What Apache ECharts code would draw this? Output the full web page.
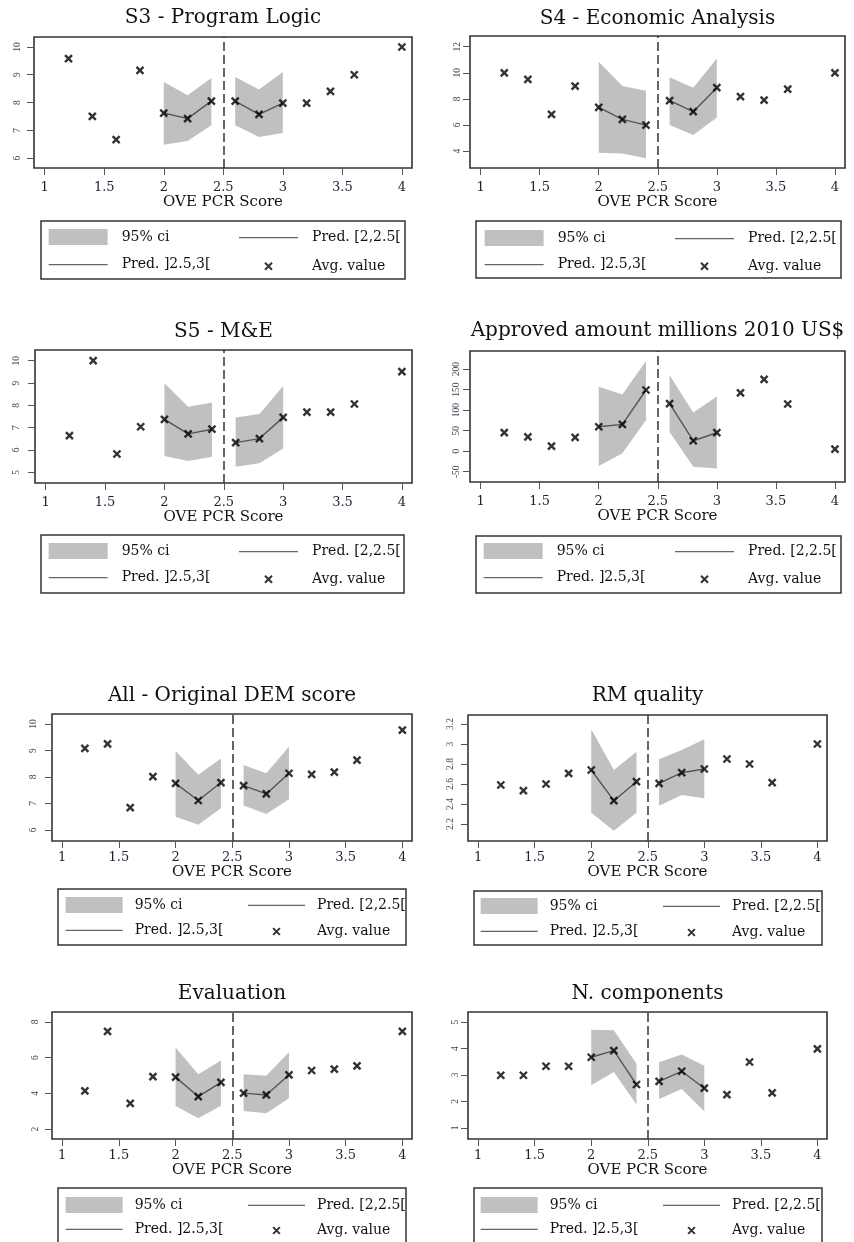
<!DOCTYPE html>
<html>
<head>
<meta charset="utf-8">
<title>OVE PCR Score - regression discontinuity panels</title>
<script src="https://cdn.jsdelivr.net/npm/echarts@6.0.0/dist/echarts.min.js"></script>
<style>
  html, body { margin: 0; padding: 0; background: #fff; }
  #chart { width: 854px; height: 1242px; }
</style>
</head>
<body>
<div id="chart"></div>
<script>
// score bins on the x axis
const xScores = [1.2, 1.4, 1.6, 1.8, 2.0, 2.2, 2.4, 2.6, 2.8, 3.0, 3.2, 3.4, 3.6, 4.0];
const ciLeftX = [2.0, 2.2, 2.4];
const ciRightX = [2.6, 2.8, 3.0];
const xTicks = [1, 1.5, 2, 2.5, 3, 3.5, 4];
const cutoff = 2.5;

// S3 - Program Logic
const s3Avg = [9.58, 7.50, 6.66, 9.16, 7.62, 7.42, 8.05, 8.05, 7.57, 7.98, 7.98, 8.40, 9.00, 10.0];
const s3LoL = [6.48, 6.61, 7.18];
const s3HiL = [8.74, 8.26, 8.88];
const s3LoR = [7.18, 6.76, 6.90];
const s3HiR = [8.92, 8.47, 9.10];
const s3Ticks = [6, 7, 8, 9, 10];

// S4 - Economic Analysis
const s4Avg = [10.0, 9.50, 6.81, 8.98, 7.35, 6.43, 5.99, 7.86, 7.02, 8.86, 8.17, 7.91, 8.75, 10.0];
const s4LoL = [3.87, 3.82, 3.44];
const s4HiL = [10.85, 8.98, 8.63];
const s4LoR = [5.99, 5.23, 6.58];
const s4HiR = [9.65, 8.86, 11.1];
const s4Ticks = [4, 6, 8, 10, 12];

// S5 - M&E
const s5Avg = [6.64, 10.0, 5.82, 7.04, 7.37, 6.72, 6.93, 6.33, 6.51, 7.46, 7.70, 7.70, 8.06, 9.51];
const s5LoL = [5.73, 5.51, 5.70];
const s5HiL = [8.99, 7.94, 8.13];
const s5LoR = [5.25, 5.40, 6.07];
const s5HiR = [7.46, 7.61, 8.87];
const s5Ticks = [5, 6, 7, 8, 9, 10];

// Approved amount millions 2010 US$
const amtAvg = [45, 35, 12.5, 33.6, 59.6, 65.3, 149, 116, 25.5, 45, 142, 175, 115, 5.2];
const amtLoL = [-36, -5, 76];
const amtHiL = [157, 138, 219.5];
const amtLoR = [47, -38, -42];
const amtHiR = [185, 94, 133];
const amtTicks = [-50, 0, 50, 100, 150, 200];

// All - Original DEM score
const demAvg = [9.08, 9.25, 6.84, 8.01, 7.76, 7.11, 7.79, 7.67, 7.36, 8.14, 8.10, 8.18, 8.64, 9.77];
const demLoL = [6.50, 6.19, 6.82];
const demHiL = [8.98, 8.08, 8.70];
const demLoR = [6.92, 6.60, 7.16];
const demHiR = [8.45, 8.14, 9.14];
const demTicks = [6, 7, 8, 9, 10];

// RM quality
const rmAvg = [2.59, 2.533, 2.60, 2.707, 2.74, 2.433, 2.623, 2.607, 2.713, 2.75, 2.85, 2.80, 2.613, 3.0];
const rmLoL = [2.313, 2.133, 2.313];
const rmHiL = [3.147, 2.74, 2.923];
const rmLoR = [2.383, 2.49, 2.457];
const rmHiR = [2.847, 2.94, 3.047];
const rmTicks = [2.2, 2.4, 2.6, 2.8, 3, 3.2];

// Evaluation
const evAvg = [4.14, 7.47, 3.44, 4.94, 4.91, 3.82, 4.61, 4.01, 3.91, 5.04, 5.28, 5.36, 5.54, 7.47];
const evLoL = [3.29, 2.60, 3.31];
const evHiL = [6.57, 5.07, 5.84];
const evLoR = [3.01, 2.88, 3.73];
const evHiR = [5.07, 4.98, 6.31];
const evTicks = [2, 4, 6, 8];

// N. components
const ncAvg = [2.99, 2.99, 3.33, 3.33, 3.67, 3.92, 2.64, 2.76, 3.14, 2.50, 2.26, 3.49, 2.32, 3.99];
const ncLoL = [2.61, 3.11, 1.88];
const ncHiL = [4.71, 4.69, 3.42];
const ncLoR = [2.09, 2.47, 1.63];
const ncHiR = [3.48, 3.77, 3.35];
const ncTicks = [1, 2, 3, 4, 5];

const SERIF = "'DejaVu Serif', serif";
const BAND = '#c0c0c0';
const PRED = '#555';
const X_SYMBOL = 'path://M0,0L10,10M10,0L0,10';
// legend icons: the leading moves give the icon the full legend key box
const X_LEGEND = 'path://M0,0M59,16M26,4.5L33,11.5M33,4.5L26,11.5';
const LINE_LEGEND = 'path://M0,0M59,16M0,8L59,8';

const panels = [
  {title: 'S3 - Program Logic', avg: s3Avg, lo: [s3LoL, s3LoR], hi: [s3HiL, s3HiR], ticks: s3Ticks,
    yRange: [5.64, 10.36], grid: [34, 37, 378, 131], titleTop: 8, yGap: 12,
    legend: {box: [41, 221, 364, 58], c1: 48, c2: 238, r1: 237, r2: 264}},
  {title: 'S4 - Economic Analysis', avg: s4Avg, lo: [s4LoL, s4LoR], hi: [s4HiL, s4HiR], ticks: s4Ticks,
    yRange: [2.70, 12.82], grid: [470, 36, 375, 132], titleTop: 9, yGap: 8,
    legend: {box: [476, 221, 365, 57], c1: 484, c2: 674, r1: 238, r2: 264}},
  {title: 'S5 - M&E', avg: s5Avg, lo: [s5LoL, s5LoR], hi: [s5HiL, s5HiR], ticks: s5Ticks,
    yRange: [4.52, 10.48], grid: [35, 350, 377, 133], titleTop: 322, yGap: 14,
    legend: {box: [41, 535, 363, 58], c1: 48, c2: 238, r1: 551, r2: 577}},
  {title: 'Approved amount millions 2010 US$', avg: amtAvg, lo: [amtLoL, amtLoR], hi: [amtHiL, amtHiR], ticks: amtTicks,
    yRange: [-75, 244], grid: [470, 351, 375, 131], titleTop: 321, yGap: 9,
    legend: {box: [476, 536, 365, 57], c1: 483, c2: 674, r1: 551, r2: 577}},
  {title: 'All - Original DEM score', avg: demAvg, lo: [demLoL, demLoR], hi: [demHiL, demHiR], ticks: demTicks,
    yRange: [5.58, 10.38], grid: [52, 714, 360, 127], titleTop: 686, yGap: 14,
    legend: {box: [58, 889, 348, 56], c1: 65, c2: 247, r1: 905, r2: 930}},
  {title: 'RM quality', avg: rmAvg, lo: [rmLoL, rmLoR], hi: [rmHiL, rmHiR], ticks: rmTicks,
    yRange: [2.03, 3.29], grid: [468, 715, 359, 126], titleTop: 686, yGap: 13,
    legend: {box: [474, 891, 348, 54], c1: 480, c2: 662, r1: 906, r2: 931}},
  {title: 'Evaluation', avg: evAvg, lo: [evLoL, evLoR], hi: [evHiL, evHiR], ticks: evTicks,
    yRange: [1.44, 8.56], grid: [52, 1012, 360, 127], titleTop: 984, yGap: 12,
    legend: {box: [58, 1188, 348, 58], c1: 65, c2: 247, r1: 1205, r2: 1229}},
  {title: 'N. components', avg: ncAvg, lo: [ncLoL, ncLoR], hi: [ncHiL, ncHiR], ticks: ncTicks,
    yRange: [0.58, 5.38], grid: [468, 1012, 359, 127], titleTop: 984, yGap: 8,
    legend: {box: [474, 1188, 348, 58], c1: 480, c2: 662, r1: 1205, r2: 1229}}
];

const fmt = v => String(+(+v).toFixed(3));

// one grey polygon for the whole band, drawn on the first data item
function renderBand(params, api) {
  if (params.dataIndexInside !== 0) return null;
  const upper = [];
  const lower = [];
  for (let k = 0; k < params.dataInsideLength; k++) {
    const x = api.value(0, k);
    upper.push(api.coord([x, api.value(2, k)]));
    lower.unshift(api.coord([x, api.value(1, k)]));
  }
  return {
    type: 'polygon',
    shape: {points: upper.concat(lower)},
    style: {fill: api.visual('color')}
  };
}

const option = {
  animation: false,
  backgroundColor: '#fff',
  title: [], grid: [], xAxis: [], yAxis: [], legend: [], series: [], graphic: []
};

panels.forEach((p, i) => {
  const [gl, gt, gw, gh] = p.grid;
  const topRow = i < 4;

  option.title.push({
    text: p.title, left: gl + gw / 2, top: p.titleTop, textAlign: 'center', padding: 0,
    textStyle: {fontFamily: SERIF, fontSize: 20, fontWeight: 'normal', color: '#111'}
  });

  option.grid.push({
    left: gl, top: gt, width: gw, height: gh,
    show: true, borderColor: '#333', borderWidth: 1.6, backgroundColor: 'transparent'
  });

  option.xAxis.push({
    gridIndex: i, type: 'value', min: 0.91, max: 4.085,
    name: 'OVE PCR Score', nameLocation: 'middle', nameGap: topRow ? 24 : 21,
    nameTextStyle: {fontFamily: SERIF, fontSize: 15, color: '#111'},
    axisLine: {show: false, onZero: false},
    splitLine: {show: false},
    axisTick: {show: true, length: 7, customValues: xTicks, lineStyle: {color: '#555', width: 1}},
    axisLabel: {customValues: xTicks, margin: topRow ? 13 : 10, fontFamily: SERIF, fontSize: 13,
      color: '#1f1f33', formatter: fmt}
  });

  option.yAxis.push({
    gridIndex: i, type: 'value', min: p.yRange[0], max: p.yRange[1],
    axisLine: {show: false, onZero: false},
    splitLine: {show: false},
    axisTick: {show: true, length: 7, customValues: p.ticks, lineStyle: {color: '#555', width: 1}},
    axisLabel: {customValues: p.ticks, rotate: 90, margin: p.yGap, fontFamily: "'Liberation Serif', serif",
      fontSize: 9.5, color: '#4a4458', formatter: fmt}
  });

  // confidence bands
  [ciLeftX, ciRightX].forEach((xs, side) => {
    option.series.push({
      name: '95% ci', type: 'custom', xAxisIndex: i, yAxisIndex: i, silent: true, z: 1,
      itemStyle: {color: BAND},
      encode: {x: 0, y: [1, 2]},
      data: xs.map((x, k) => [x, p.lo[side][k], p.hi[side][k]]),
      renderItem: renderBand
    });
  });

  // predicted lines on each side of the cutoff
  option.series.push({
    name: 'Pred. [2,2.5[', type: 'line', xAxisIndex: i, yAxisIndex: i, z: 2, silent: true,
    symbol: 'none', lineStyle: {color: PRED, width: 1.4}, itemStyle: {color: PRED},
    data: ciLeftX.map(x => [x, p.avg[xScores.indexOf(x)]])
  });
  option.series.push({
    name: 'Pred. ]2.5,3[', type: 'line', xAxisIndex: i, yAxisIndex: i, z: 2, silent: true,
    symbol: 'none', lineStyle: {color: PRED, width: 1.4}, itemStyle: {color: PRED},
    data: ciRightX.map(x => [x, p.avg[xScores.indexOf(x)]])
  });

  // bin averages + cutoff line
  option.series.push({
    name: 'Avg. value', type: 'scatter', xAxisIndex: i, yAxisIndex: i, z: 3, silent: true,
    symbol: X_SYMBOL, symbolSize: 7,
    itemStyle: {color: '#000', borderColor: '#000', borderWidth: 2.4},
    data: xScores.map((x, k) => [x, p.avg[k]]),
    markLine: {
      silent: true, symbol: ['none', 'none'], label: {show: false},
      lineStyle: {color: '#333', width: 1.5, type: [9, 4]},
      data: [{xAxis: cutoff}]
    }
  });

  // legend: two columns inside a framed box
  const L = p.legend;
  const legendBase = {
    orient: 'vertical', padding: 0, top: L.r1 - 8,
    itemWidth: topRow ? 59 : 57, itemHeight: 16, itemGap: (L.r2 - L.r1) - 16,
    selectedMode: false,
    formatter: '{t|{name}}',
    textStyle: {rich: {t: {fontFamily: SERIF, fontSize: 14, color: '#111', lineHeight: 16,
      padding: [0, 0, 0, topRow ? 9 : 7]}}}
  };
  const lineIcon = {icon: LINE_LEGEND, itemStyle: {color: 'transparent', borderColor: '#666', borderWidth: 1.3}};
  option.legend.push(Object.assign({}, legendBase, {
    left: L.c1,
    data: [
      {name: '95% ci', icon: 'rect', itemStyle: {color: BAND, borderWidth: 0}},
      Object.assign({name: 'Pred. ]2.5,3['}, lineIcon)
    ]
  }));
  option.legend.push(Object.assign({}, legendBase, {
    left: L.c2,
    data: [
      Object.assign({name: 'Pred. [2,2.5['}, lineIcon),
      {name: 'Avg. value', icon: X_LEGEND, itemStyle: {color: 'transparent', borderColor: '#000', borderWidth: 2}}
    ]
  }));
  option.graphic.push({
    type: 'rect', silent: true,
    shape: {x: L.box[0], y: L.box[1], width: L.box[2], height: L.box[3]},
    style: {fill: 'none', stroke: '#333', lineWidth: 1.5}
  });
});

const chart = echarts.init(document.getElementById('chart'), null, {renderer: 'canvas'});
chart.setOption(option);
</script>
</body>
</html>
